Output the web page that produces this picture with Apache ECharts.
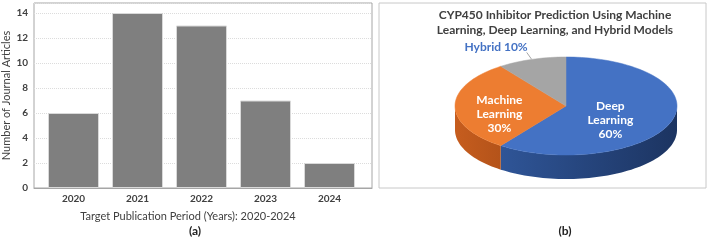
<!DOCTYPE html>
<html style="height: 100%">
<head>
<meta charset="utf-8">
<style>
    html, body { height: 100%; margin: 0; overflow: hidden; background: #fff; }
    #container { width: 708px; height: 240px; }
</style>
</head>
<body>
<div id="container"></div>
<script src="https://cdn.jsdelivr.net/npm/echarts@6/dist/echarts.min.js"></script>
<script type="text/javascript">
// bar chart (a)
var years = ['2020', '2021', '2022', '2023', '2024'];
var articles = [6, 14, 13, 7, 2];
// pie chart (b), clockwise from 12 o'clock
var pieNames = ['Deep Learning', 'Machine Learning', 'Hybrid'];
var pieValues = [60, 30, 10];

var FONT = 'Lato';
var TXT = '#404040';

var topColors = ['#4472c4', '#ed7d31', '#a5a5a5'];
var sideColors = [['#2f5597', '#1c3461'], ['#c65d1e', '#b4531a'], ['#8c8c8c', '#7a7a7a']];
// pie geometry
var cx = 566, cy = 106, rx = 111, ry = 49, depth = 24;
var labelFrac = [0.42, 0.6, 1];

var total = pieValues.reduce(function (a, b) { return a + b; }, 0);
var starts = [];
var acc = 0;
pieValues.forEach(function (v) { starts.push(acc / total * 360); acc += v; });

function pt(deg, dy) {
    var r = deg * Math.PI / 180;
    return [cx + rx * Math.sin(r), cy - ry * Math.cos(r) + (dy || 0)];
}
function arc(a0, a1, dy) {
    var pts = [];
    var n = Math.max(2, Math.ceil((a1 - a0) / 2));
    for (var i = 0; i <= n; i++) pts.push(pt(a0 + (a1 - a0) * i / n, dy));
    return pts;
}

function renderSlice(params, api) {
    var i = params.dataIndex;
    var a0 = starts[i];
    var a1 = a0 + pieValues[i] / total * 360;
    var children = [];
    // front wall (visible between 90 and 270 degrees)
    var s0 = Math.max(a0, 90), s1 = Math.min(a1, 270);
    if (s1 > s0) {
        var top = arc(s0, s1, 0);
        var bot = arc(s0, s1, depth).reverse();
        children.push({
            type: 'polygon',
            shape: { points: top.concat(bot) },
            style: {
                fill: new echarts.graphic.LinearGradient(0, 0, 1, 0, [
                    { offset: 0, color: sideColors[i][0] },
                    { offset: 1, color: sideColors[i][1] }
                ])
            }
        });
    }
    // top face
    children.push({
        type: 'polygon',
        shape: { points: [[cx, cy]].concat(arc(a0, a1, 0)) },
        style: { fill: topColors[i], stroke: topColors[i], lineWidth: 0.5 }
    });
    var mid = (a0 + a1) / 2;
    var pct = Math.round(pieValues[i] / total * 100) + '%';
    if (pieValues[i] / total >= 0.2) {
        var f = labelFrac[i];
        var r = mid * Math.PI / 180;
        children.push({
            type: 'text',
            x: cx + rx * f * Math.sin(r),
            y: cy - ry * f * Math.cos(r) + 8,
            style: {
                text: pieNames[i].split(' ').join('\n') + '\n' + pct,
                fill: '#fff', font: 'bold 12px ' + FONT,
                align: 'center', verticalAlign: 'middle', lineHeight: 14
            }
        });
    } else {
        var e = pt(mid, 0);
        children.push({
            type: 'polyline',
            shape: { points: [e, [e[0] - 5, e[1] - 7]] },
            style: { stroke: '#a6a6a6', lineWidth: 1 }
        });
        children.push({
            type: 'text',
            x: e[0] - 4, y: e[1] - 6,
            style: {
                text: pieNames[i] + ' ' + pct,
                fill: topColors[0], font: 'bold 12px ' + FONT,
                align: 'right', verticalAlign: 'bottom'
            }
        });
    }
    return { type: 'group', children: children };
}

var chart = echarts.init(document.getElementById('container'), null, { renderer: 'canvas' });

var option = {
    animation: false,
    grid: [
        { left: 32, right: 336, top: 3, bottom: 52, show: true, borderColor: '#a6a6a6', borderWidth: 1 },
        { left: 41.5, width: 320, top: 3, bottom: 52 }
    ],
    xAxis: [
        {
            gridIndex: 0, type: 'category', data: years,
            axisLine: { lineStyle: { color: '#a6a6a6' } },
            axisTick: { show: false }, axisLabel: { show: false }
        },
        {
            gridIndex: 1, type: 'category', data: years,
            axisLine: { show: false }, axisTick: { show: false },
            axisLabel: { color: TXT, fontFamily: FONT, fontWeight: 'bold', fontSize: 10, margin: 6 }
        }
    ],
    yAxis: [
        {
            gridIndex: 0, type: 'value', min: 0, max: 14.8, interval: 2,
            name: 'Number of Journal Articles', nameLocation: 'middle', nameGap: 22,
            nameTextStyle: { color: TXT, fontFamily: FONT, fontSize: 11 },
            axisLine: { show: false }, axisTick: { show: false },
            axisLabel: { color: TXT, fontFamily: FONT, fontWeight: 'bold', fontSize: 10, margin: 6, showMaxLabel: false },
            splitLine: { lineStyle: { color: '#dcdcdc', type: 'dotted' } }
        },
        {
            gridIndex: 1, type: 'value', min: 0, max: 14.8, show: false
        }
    ],
    series: [
        {
            type: 'bar', xAxisIndex: 1, yAxisIndex: 1, data: articles, barWidth: 51,
            itemStyle: { color: '#7f7f7f', borderColor: '#d9d9d9', borderWidth: 1 }
        },
        {
            type: 'custom', coordinateSystem: 'none',
            data: pieValues, renderItem: renderSlice
        }
    ],
    graphic: [
        {
            type: 'rect', shape: { x: 379, y: 3, width: 327, height: 185 },
            style: { fill: 'none', stroke: '#c8c8c8', lineWidth: 1 }
        },
        {
            type: 'text', x: 555, y: 8,
            style: {
                text: 'CYP450 Inhibitor Prediction Using Machine\nLearning, Deep Learning, and Hybrid Models',
                fill: TXT, font: 'bold 12px ' + FONT, align: 'center', lineHeight: 15
            }
        },
        {
            type: 'text', x: 188, y: 211,
            style: { text: 'Target Publication Period (Years): 2020-2024', fill: TXT, font: '11px ' + FONT, align: 'center' }
        },
        {
            type: 'text', x: 195, y: 225,
            style: { text: '(a)', fill: '#222', font: 'bold 12px ' + FONT, align: 'center' }
        },
        {
            type: 'text', x: 565, y: 225,
            style: { text: '(b)', fill: '#222', font: 'bold 12px ' + FONT, align: 'center' }
        }
    ]
};
chart.setOption(option);
</script>
</body>
</html>
